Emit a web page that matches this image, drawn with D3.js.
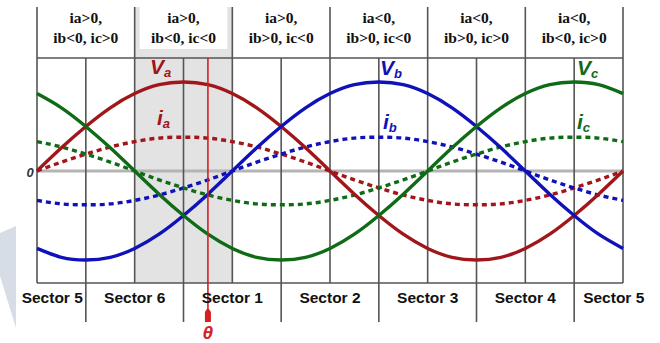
<!DOCTYPE html>
<html><head><meta charset="utf-8">
<script src="https://cdn.jsdelivr.net/npm/d3@7"></script>
<style>
html,body{margin:0;padding:0;background:#fff;}
svg{display:block;}
</style></head>
<body>
<svg id="c" width="660" height="343"></svg>
<script>
// ---- data (electrical angle in degrees, normalized amplitudes) ----
const angles = [0,15,30,45,60,75,90,105,120,135,150,165,180,195,210,225,240,255,270,285,300,315,330,345,360];
const Va = [0,.26,.5,.71,.87,.97,1,.97,.87,.71,.5,.26,0,-.26,-.5,-.71,-.87,-.97,-1,-.97,-.87,-.71,-.5,-.26,0];
const Vb = [-.87,-.97,-1,-.97,-.87,-.71,-.5,-.26,0,.26,.5,.71,.87,.97,1,.97,.87,.71,.5,.26,0,-.26,-.5,-.71,-.87];
const Vc = [.87,.71,.5,.26,0,-.26,-.5,-.71,-.87,-.97,-1,-.97,-.87,-.71,-.5,-.26,0,.26,.5,.71,.87,.97,1,.97,.87];
const Ia = [0,.10,.19,.27,.33,.37,.38,.37,.33,.27,.19,.10,0,-.10,-.19,-.27,-.33,-.37,-.38,-.37,-.33,-.27,-.19,-.10,0];
const Ib = [-.33,-.37,-.38,-.37,-.33,-.27,-.19,-.10,0,.10,.19,.27,.33,.37,.38,.37,.33,.27,.19,.10,0,-.10,-.19,-.27,-.33];
const Ic = [.33,.27,.19,.10,0,-.10,-.19,-.27,-.33,-.37,-.38,-.37,-.33,-.27,-.19,-.10,0,.10,.19,.27,.33,.37,.38,.37,.33];
const headerLabels = [["ia>0,","ib<0, ic>0"],["ia>0,","ib<0, ic<0"],["ia>0,","ib>0, ic<0"],["ia<0,","ib>0, ic<0"],["ia<0,","ib>0, ic>0"],["ia<0,","ib<0, ic>0"]];
const sectorLabels = ["Sector 5","Sector 6","Sector 1","Sector 2","Sector 3","Sector 4","Sector 5"];
const sectorCenters = [0,60,120,180,240,300,360];
const sectorBounds = [30,90,150,210,270,330];
const gridAngles = [0,30,60,90,120,150,180,210,240,270,300,330,360];
const headerBounds = [0,60,120,180,240,300,360];
const shadedRange = [60,120];
const theta = 105;

const red = "#a0161a", blue = "#0f12b8", green = "#106b16";

const svg = d3.select("#c");
const x = d3.scaleLinear().domain([0,360]).range([37,623]);
const y = d3.scaleLinear().domain([-1,1]).range([260,82]);
const yTop = 58, yBot = 283, headTop = 7;

// watermark shape
svg.append("polygon").attr("points","0,233 16,226 16,328 0,276").attr("fill","#d6dde7");

// shaded column
svg.append("rect").attr("x",x(shadedRange[0])).attr("y",headTop).attr("width",x(shadedRange[1])-x(shadedRange[0])).attr("height",yBot-headTop).attr("fill","#e3e3e3");
svg.append("rect").attr("x",x(shadedRange[0])+5).attr("y",headTop).attr("width",x(shadedRange[1])-x(shadedRange[0])-10).attr("height",yTop-headTop-9).attr("fill","#fff");

// zero line
svg.append("line").attr("x1",x(0)).attr("x2",x(360)).attr("y1",y(0)).attr("y2",y(0)).attr("stroke","#b4b4b4").attr("stroke-width",3);

// grid
const g = svg.append("g").attr("stroke","#555").attr("stroke-width",1.6);
g.selectAll("line.v").data(gridAngles).join("line").attr("class","v").attr("x1",d=>x(d)).attr("x2",d=>x(d)).attr("y1",yTop).attr("y2",yBot);
g.selectAll("line.h").data(headerBounds).join("line").attr("class","h").attr("x1",d=>x(d)).attr("x2",d=>x(d)).attr("y1",headTop).attr("y2",yTop);
g.append("line").attr("x1",x(0)).attr("x2",x(360)).attr("y1",yTop).attr("y2",yTop);
g.append("line").attr("x1",x(0)).attr("x2",x(360)).attr("y1",yBot).attr("y2",yBot);
g.selectAll("line.s").data(sectorBounds).join("line").attr("class","s").attr("x1",d=>x(d)).attr("x2",d=>x(d)).attr("y1",yBot).attr("y2",322);

// header labels
const ht = svg.append("g").attr("font-family","'Liberation Serif','Times New Roman',serif").attr("font-weight","bold").attr("font-size",15.5).attr("fill","#111").attr("text-anchor","middle");
headerLabels.forEach((lab,i)=>{
  const cx = (x(headerBounds[i])+x(headerBounds[i+1]))/2;
  ht.append("text").attr("x",cx).attr("y",23).text(lab[0]);
  ht.append("text").attr("x",cx).attr("y",43).text(lab[1]);
});

// curves
const line = d3.line().x((d,i)=>x(angles[i])).y(d=>y(d)).curve(d3.curveNatural);
const curr = [[Ia,red],[Ib,blue],[Ic,green]];
curr.forEach(([arr,col])=>{
  svg.append("path").attr("d",line(arr)).attr("fill","none").attr("stroke",col).attr("stroke-width",3.4).attr("stroke-dasharray","5,4").attr("stroke-linecap","butt");
});
const volt = [[Va,red],[Vb,blue],[Vc,green]];
volt.forEach(([arr,col])=>{
  svg.append("path").attr("d",line(arr)).attr("fill","none").attr("stroke",col).attr("stroke-width",3.4);
});

// theta marker
svg.append("line").attr("x1",x(theta)).attr("x2",x(theta)).attr("y1",yTop).attr("y2",312).attr("stroke","#d42020").attr("stroke-width",1.6);
svg.append("path").attr("d",`M${x(theta)-1},309 L${x(theta)+1},309 L${x(theta)+3},312 L${x(theta)+3},322 L${x(theta)-3},322 L${x(theta)-3},312 Z`).attr("fill","#d42020");
svg.append("text").attr("x",x(theta)).attr("y",339).attr("text-anchor","middle").attr("font-family","'Liberation Sans',Arial,sans-serif").attr("font-weight","bold").attr("font-style","italic").attr("font-size",19).attr("fill","#d42020").text("θ");

// sector labels
const st = svg.append("g").attr("font-family","'Liberation Sans',Arial,sans-serif").attr("font-weight","bold").attr("font-size",15.5).attr("fill","#111");
sectorLabels.forEach((s,i)=>{
  let px = x(sectorCenters[i]), anchor = "middle";
  if(i===0){px = x(sectorBounds[0])-3; anchor="end";}
  if(i===sectorLabels.length-1){px = x(sectorBounds[sectorBounds.length-1])+9; anchor="start";}
  st.append("text").attr("x",px).attr("y",303).attr("text-anchor",anchor).text(s);
});

// zero label
svg.append("text").attr("x",30).attr("y",177).attr("text-anchor","middle").attr("font-family","'Liberation Sans',Arial,sans-serif").attr("font-weight","bold").attr("font-style","italic").attr("font-size",13).attr("fill","#333").text("0");

// curve labels
const labs = [["V","a",150,74,red],["i","a",157,125,red],["V","b",380,75,blue],["i","b",383,129,blue],["V","c",577,75,green],["i","c",577,129,green]];
labs.forEach(([m,s,lx,ly,col])=>{
  const t = svg.append("text").attr("x",lx).attr("y",ly).attr("font-family","'Liberation Sans',Arial,sans-serif").attr("font-weight","bold").attr("font-style","italic").attr("font-size",21).attr("fill",col);
  t.append("tspan").text(m);
  t.append("tspan").attr("font-size",13).attr("dy",3).text(s);
});
</script>
</body></html>
